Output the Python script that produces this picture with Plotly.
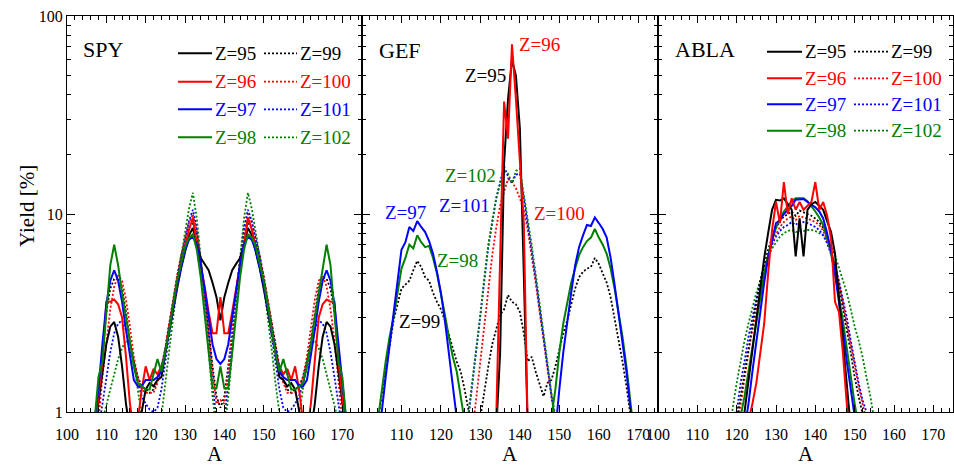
import math
import plotly.graph_objects as go

# ---------------------------------------------------------------------------
# Fission-fragment charge yields (in %) versus mass number A, for three models.
# Values below 1 % fall outside the plotted range and are clipped.
# ---------------------------------------------------------------------------

# SPY model, A = 107 ... 171
SPY_A = list(range(107, 172))
SPY_Z95 = [0.8, 1.1, 1.6, 2.2, 2.7, 2.85, 2.4, 1.7, 1.1, 0.8, 0.7, 0.8, 1.0, 1.3, 1.4, 1.35, 1.45,
           1.5, 2.0, 2.6, 3.3, 4.2, 5.3, 6.5, 7.8, 8.5, 7.0, 6.0, 5.6, 5.2, 4.5, 3.8, 2.9,
           3.8, 4.5, 5.2, 5.6, 6.0, 7.0, 8.5, 7.8, 6.5, 5.3, 4.2, 3.3, 2.6, 2.0, 1.5, 1.45,
           1.35, 1.4, 1.3, 1.0, 0.8, 0.7, 0.8, 1.1, 1.7, 2.4, 2.85, 2.7, 2.2, 1.6, 1.1, 0.8]
SPY_Z96 = [0.8, 1.2, 1.8, 3.6, 3.6, 3.7, 3.5, 3.0, 1.9, 1.1, 0.8, 0.9, 1.3, 1.7, 1.45, 1.65, 1.55,
           1.7, 2.0, 2.7, 3.5, 4.5, 5.6, 6.8, 8.3, 9.6, 7.0, 5.5, 4.3, 3.2, 2.5, 2.5, 3.8,
           2.5, 2.5, 3.2, 4.3, 5.5, 7.0, 9.6, 8.3, 6.8, 5.6, 4.5, 3.5, 2.7, 2.0, 1.7, 1.55,
           1.65, 1.45, 1.7, 1.3, 0.9, 0.8, 1.1, 1.9, 3.0, 3.5, 3.7, 3.6, 3.6, 1.8, 1.2, 0.8]
SPY_Z97 = [0.9, 1.3, 2.2, 3.5, 4.6, 5.2, 4.6, 3.6, 2.6, 1.9, 1.45, 1.35, 1.35, 1.45, 1.45, 1.45, 1.5,
           1.6, 2.0, 2.6, 3.4, 4.4, 5.4, 6.5, 7.4, 7.7, 7.0, 5.6, 4.2, 3.0, 2.2, 1.85, 1.75,
           1.85, 2.2, 3.0, 4.2, 5.6, 7.0, 7.7, 7.4, 6.5, 5.4, 4.4, 3.4, 2.6, 2.0, 1.6, 1.5,
           1.45, 1.45, 1.45, 1.35, 1.35, 1.45, 1.9, 2.6, 3.6, 4.6, 5.2, 4.6, 3.5, 2.2, 1.3, 0.9]
SPY_Z98 = [0.9, 1.5, 1.8, 3.3, 5.5, 7.0, 5.5, 4.0, 3.0, 2.2, 1.7, 1.4, 1.35, 1.3, 1.3, 1.55, 1.85,
           1.6, 2.0, 2.6, 3.5, 4.6, 5.6, 6.8, 7.6, 7.9, 6.6, 4.8, 3.1, 2.0, 1.32, 1.32, 1.7,
           1.32, 1.32, 2.0, 3.1, 4.8, 6.6, 7.9, 7.6, 6.8, 5.6, 4.6, 3.5, 2.6, 2.0, 1.6, 1.85,
           1.55, 1.3, 1.3, 1.35, 1.4, 1.7, 2.2, 3.0, 4.0, 5.5, 7.0, 5.5, 3.3, 1.8, 1.5, 0.9]
SPY_Z99 = [0.8, 1.1, 2.0, 3.2, 4.2, 4.7, 4.8, 4.2, 3.2, 2.3, 1.8, 1.5, 1.35, 1.3, 1.25, 1.3, 1.45,
           1.7, 2.1, 2.8, 3.7, 4.8, 6.0, 7.2, 8.5, 9.0, 7.8, 5.8, 4.0, 2.6, 1.7, 1.2, 1.05,
           1.2, 1.7, 2.6, 4.0, 5.8, 7.8, 9.0, 8.5, 7.2, 6.0, 4.8, 3.7, 2.8, 2.1, 1.7, 1.45,
           1.3, 1.25, 1.3, 1.35, 1.5, 1.8, 2.3, 3.2, 4.2, 4.8, 4.7, 4.2, 3.2, 2.0, 1.1, 0.8]
SPY_Z100 = [0.7, 0.9, 1.5, 2.3, 3.3, 4.3, 4.9, 4.6, 3.7, 2.7, 1.9, 1.5, 1.3, 1.25, 1.25, 1.25, 1.4,
            1.65, 2.1, 2.8, 3.7, 4.9, 6.2, 7.5, 9.0, 10.0, 8.2, 5.9, 4.0, 2.6, 1.6, 1.1, 1.15,
            1.1, 1.6, 2.6, 4.0, 5.9, 8.2, 10.0, 9.0, 7.5, 6.2, 4.9, 3.7, 2.8, 2.1, 1.65, 1.4,
            1.25, 1.25, 1.25, 1.3, 1.5, 1.9, 2.7, 3.7, 4.6, 4.9, 4.3, 3.3, 2.3, 1.5, 0.9, 0.7]
SPY_Z101 = [0.6, 0.8, 1.1, 1.5, 2.0, 2.5, 2.8, 2.9, 2.6, 2.1, 1.7, 1.4, 1.2, 1.1, 1.03, 1.0, 1.05,
            1.3, 1.8, 2.5, 3.4, 4.6, 6.0, 7.5, 9.2, 10.5, 8.5, 5.8, 3.8, 2.3, 1.4, 0.9, 0.8,
            0.9, 1.4, 2.3, 3.8, 5.8, 8.5, 10.5, 9.2, 7.5, 6.0, 4.6, 3.4, 2.5, 1.8, 1.3, 1.05,
            1.0, 1.03, 1.1, 1.2, 1.4, 1.7, 2.1, 2.6, 2.9, 2.8, 2.5, 2.0, 1.5, 1.1, 0.8, 0.6]
SPY_Z102 = [0.5, 0.7, 0.9, 1.1, 1.3, 1.55, 1.85, 2.1, 2.3, 2.2, 1.8, 1.3, 0.95, 0.7, 0.6, 0.6, 0.7,
            0.95, 1.4, 2.1, 3.1, 4.4, 6.1, 8.2, 10.6, 12.8, 9.5, 6.0, 3.5, 2.0, 1.2, 0.8, 0.6,
            0.8, 1.2, 2.0, 3.5, 6.0, 9.5, 12.8, 10.6, 8.2, 6.1, 4.4, 3.1, 2.1, 1.4, 0.95, 0.7,
            0.6, 0.6, 0.7, 0.95, 1.3, 1.8, 2.2, 2.3, 2.1, 1.85, 1.55, 1.3, 1.1, 0.9, 0.7, 0.5]

# GEF model: light and heavy humps, the central narrow peak and the broad central peak
GEF_A_LIGHT = list(range(104, 128))
GEF_A_HEAVY = list(range(147, 171))
GEF_A_NARROW = list(range(133, 144))
GEF_A_CENTRE = list(range(127, 151))
GEF_A_FULL = list(range(104, 171))
GEF_Z95 = [0.5, 0.8, 2.0, 18, 38, 60, 50, 27, 5.0, 0.8, 0.5]
GEF_Z96 = [0.5, 0.9, 6.0, 37, 24, 72, 38, 18, 9.0, 0.8, 0.5]
GEF_Z97_LIGHT = [0.8, 1.0, 1.5, 2.2, 3.0, 4.5, 6.6, 7.2, 8.6, 8.2, 9.2, 8.6, 8.1, 7.3, 6.3, 5.1,
                 4.0, 2.9, 2.0, 1.4, 0.95, 0.6, 0.4, 0.3]
GEF_Z97_HEAVY = [0.3, 0.5, 0.8, 1.3, 2.0, 2.9, 4.0, 5.5, 6.8, 7.8, 8.8, 8.7, 9.6, 9.0, 8.4, 7.6,
                 6.0, 4.4, 3.2, 2.3, 1.6, 1.05, 0.7, 0.5]
GEF_Z98_LIGHT = [0.9, 1.3, 1.8, 2.4, 3.0, 4.0, 5.3, 6.0, 7.0, 6.7, 7.8, 7.2, 6.8, 6.9, 6.0, 5.0,
                 4.0, 3.1, 2.4, 1.9, 1.6, 1.2, 0.9, 0.6]
GEF_Z98_HEAVY = [0.6, 0.95, 1.3, 2.0, 2.8, 3.5, 4.5, 5.3, 6.2, 6.8, 7.3, 7.6, 8.4, 7.6, 7.0, 6.3,
                 5.3, 4.2, 3.2, 2.4, 1.7, 1.05, 0.7, 0.5]
GEF_Z99 = [0.9, 1.2, 1.6, 2.2, 2.9, 3.5, 4.2, 4.4, 4.6, 5.2, 5.8, 5.4, 4.8, 4.6, 4.0, 3.6, 3.3,
           2.9, 2.5, 2.1, 1.8, 1.6, 1.3, 1.05, 0.8, 0.7, 0.95, 1.3, 1.7, 2.2, 2.6, 3.1, 3.3,
           3.9, 3.6, 3.5, 3.2, 2.5, 1.8, 1.9, 1.6, 1.4, 1.2, 1.4, 1.45, 1.7, 2.1, 2.5, 2.9,
           3.5, 4.2, 4.8, 5.1, 5.3, 5.4, 6.0, 5.6, 5.0, 4.5, 3.8, 3.0, 2.3, 1.8, 1.35, 1.0,
           0.7, 0.5]
GEF_Z100 = [0.6, 0.8, 1.2, 1.8, 2.8, 4.2, 6.2, 8.5, 11.0, 13.0, 15.0, 14.5, 13.5, 12.0, 10.5,
            8.3, 6.2, 4.5, 3.2, 2.3, 1.6, 1.2, 0.9, 0.6]
GEF_Z101 = [0.95, 1.4, 2.0, 3.0, 4.6, 6.8, 9.0, 12.0, 14.5, 17.3, 15.5, 14.3, 15.8, 16.0, 12.0,
            9.0, 6.5, 4.7, 3.3, 2.3, 1.6, 1.2, 0.9, 0.6]
GEF_Z102 = [1.0, 1.45, 2.1, 3.1, 4.8, 7.0, 9.2, 12.0, 14.2, 16.5, 16.0, 14.3, 16.5, 17.0, 12.5,
            9.5, 7.0, 5.0, 3.5, 2.5, 1.7, 1.25, 0.95, 0.65]

# ABLA model, A = 118 ... 156
ABLA_A = list(range(118, 157))
ABLA_Z95 = [0.5, 0.5, 0.5, 0.7, 1.0, 1.4, 2.0, 2.9, 4.2, 6.0, 8.0, 10.5, 11.8, 11.7, 12.0, 11.2,
            10.5, 6.1, 9.5, 6.1, 10.5, 11.2, 11.5, 11.0, 10.5, 9.2, 8.1, 6.3, 3.8, 2.5, 1.4, 0.8,
            0.5, 0.5, 0.5, 0.5, 0.5, 0.5, 0.5]
ABLA_Z96 = [0.5, 0.5, 0.5, 0.5, 0.5, 0.9, 1.1, 1.4, 2.0, 2.8, 5.0, 8.3, 11.5, 9.0, 14.5, 10.0,
            12.0, 10.5, 11.5, 10.5, 11.0, 11.5, 14.5, 10.5, 11.5, 9.8, 7.5, 3.6, 3.2, 2.0, 1.1,
            0.6, 0.5, 0.5, 0.5, 0.5, 0.5, 0.5, 0.5]
ABLA_Z97 = [0.5, 0.5, 0.5, 0.6, 0.8, 1.1, 1.6, 2.3, 3.3, 4.5, 6.0, 7.5, 9.0, 9.3, 10.0, 10.5,
            11.0, 11.8, 11.9, 11.9, 11.5, 11.2, 10.8, 10.3, 9.5, 8.0, 6.5, 5.0, 3.7, 2.6, 1.8,
            1.3, 0.95, 0.6, 0.5, 0.5, 0.5, 0.5, 0.5]
ABLA_Z98 = [0.5, 0.5, 0.7, 0.95, 1.2, 1.6, 2.1, 2.9, 3.9, 5.0, 6.2, 7.4, 8.5, 9.5, 10.3, 11.0,
            11.6, 12.0, 12.0, 12.0, 11.6, 11.0, 10.3, 9.6, 8.8, 7.6, 6.3, 5.0, 3.9, 2.9, 2.1,
            1.5, 1.1, 0.85, 0.5, 0.5, 0.5, 0.5, 0.5]
ABLA_Z99 = [0.5, 0.7, 0.9, 1.2, 1.6, 2.1, 2.8, 3.6, 4.6, 5.6, 6.6, 7.6, 8.5, 9.2, 9.7, 10.0,
            10.3, 9.8, 10.4, 10.2, 10.0, 9.8, 9.5, 9.1, 8.5, 7.6, 6.5, 5.4, 4.3, 3.4, 2.6,
            2.0, 1.5, 1.2, 1.0, 0.8, 0.6, 0.5, 0.5]
ABLA_Z100 = [0.5, 0.6, 0.8, 1.1, 1.5, 2.0, 2.6, 3.3, 4.2, 5.1, 6.1, 7.1, 7.9, 8.6, 9.1, 9.5,
             9.7, 9.3, 9.8, 9.6, 9.5, 9.3, 9.1, 8.8, 8.2, 7.4, 6.5, 5.5, 4.5, 3.6, 2.8, 2.2,
             1.7, 1.35, 1.1, 0.9, 0.6, 0.5, 0.5]
ABLA_Z101 = [0.6, 0.8, 1.0, 1.4, 1.8, 2.4, 3.0, 3.7, 4.5, 5.3, 6.2, 7.0, 7.7, 8.2, 8.6, 8.8,
             9.1, 8.8, 9.2, 9.1, 9.0, 8.8, 8.6, 8.3, 7.8, 7.1, 6.3, 5.5, 4.6, 3.7, 3.0, 2.3,
             1.8, 1.4, 1.15, 1.0, 0.75, 0.5, 0.5]
ABLA_Z102 = [0.7, 1.05, 1.4, 1.8, 2.3, 2.8, 3.4, 4.0, 4.6, 5.3, 6.1, 6.7, 7.2, 7.7, 8.0, 8.2,
             8.3, 8.1, 8.2, 8.2, 8.3, 8.3, 8.2, 8.0, 7.8, 7.3, 6.8, 6.2, 5.4, 4.6, 4.0, 3.3,
             2.7, 2.3, 1.9, 1.5, 1.2, 0.9, 0.6]

# Axis ticks
X_TICKS = [100, 110, 120, 130, 140, 150, 160, 170]
X_TICKS_MIDDLE = [110, 120, 130, 140, 150, 160, 170]
Y_TICKS = [1, 10, 100]
Y_MINOR = [2, 3, 4, 5, 6, 7, 8, 9, 20, 30, 40, 50, 60, 70, 80, 90]

# GEF in-panel labels: (text, Z, A position, yield position)
GEF_LABELS = [("Z=96", 96, 144.9, 71.4), ("Z=95", 95, 131.2, 49.8),
              ("Z=102", 102, 127.4, 15.7), ("Z=101", 101, 125.9, 11.1),
              ("Z=97", 97, 110.9, 10.2), ("Z=98", 98, 124.1, 5.8),
              ("Z=99", 99, 114.5, 2.85), ("Z=100", 100, 150.0, 10.1)]

# ---------------------------------------------------------------------------
FONT = "Liberation Serif, Times New Roman, DejaVu Serif, serif"
COLOR = {95: "black", 96: "red", 97: "blue", 98: "green",
         99: "black", 100: "red", 101: "blue", 102: "green"}
DOT = "2px,2px"

W, H = 954, 467
ML, MR, MT, MB = 67, 1, 16, 55
PW, PH = W - ML - MR, H - MT - MB


def paper(xp, yp):
    """Page pixel position -> paper coordinates."""
    return (xp - ML) / PW, (H - MB - yp) / PH


def style(z):
    solid = z <= 98
    return dict(color=COLOR[z], width=2 if solid else 1.8, dash="solid" if solid else DOT)


fig = go.Figure()


def add(a, y, z, xa, ya):
    fig.add_trace(go.Scatter(x=a, y=y, mode="lines", line=style(z), xaxis=xa, yaxis=ya,
                             showlegend=False, hoverinfo="skip"))


# SPY
for z, vals in [(99, SPY_Z99), (100, SPY_Z100), (101, SPY_Z101), (102, SPY_Z102),
                (95, SPY_Z95), (96, SPY_Z96), (97, SPY_Z97), (98, SPY_Z98)]:
    add(SPY_A, vals, z, "x", "y")

# GEF
add(GEF_A_FULL, GEF_Z99, 99, "x2", "y2")
add(GEF_A_CENTRE, GEF_Z100, 100, "x2", "y2")
add(GEF_A_CENTRE, GEF_Z101, 101, "x2", "y2")
add(GEF_A_CENTRE, GEF_Z102, 102, "x2", "y2")
add(GEF_A_LIGHT, GEF_Z98_LIGHT, 98, "x2", "y2")
add(GEF_A_HEAVY, GEF_Z98_HEAVY, 98, "x2", "y2")
add(GEF_A_LIGHT, GEF_Z97_LIGHT, 97, "x2", "y2")
add(GEF_A_HEAVY, GEF_Z97_HEAVY, 97, "x2", "y2")
add(GEF_A_NARROW, GEF_Z95, 95, "x2", "y2")
add(GEF_A_NARROW, GEF_Z96, 96, "x2", "y2")

# ABLA
for z, vals in [(102, ABLA_Z102), (101, ABLA_Z101), (100, ABLA_Z100), (99, ABLA_Z99),
                (98, ABLA_Z98), (97, ABLA_Z97), (95, ABLA_Z95), (96, ABLA_Z96)]:
    add(ABLA_A, vals, z, "x3", "y3")

tickfont = dict(family=FONT, size=16, color="black")
third = 295 / PW
domains = [[0, third], [third, 2 * third + 1 / PW], [2 * third + 1 / PW, 1]]


def xaxis(dom, ticks, anchor):
    return dict(domain=dom, range=[100, 175], anchor=anchor, tickvals=ticks,
                ticktext=[str(t) for t in ticks], ticks="inside", ticklen=7, tickwidth=1,
                tickcolor="black", showline=True, linecolor="black", linewidth=1.2,
                mirror="allticks", showgrid=False, zeroline=False, tickfont=tickfont,
                ticklabelstandoff=8,
                minor=dict(tick0=100, dtick=2, ticks="inside", ticklen=4, tickwidth=1,
                           tickcolor="black", showgrid=False))


def yaxis(anchor, labels):
    return dict(type="log", range=[0, 2], anchor=anchor, tickvals=Y_TICKS,
                ticktext=[str(t) for t in Y_TICKS], showticklabels=labels,
                ticks="inside", ticklen=8, tickwidth=1, tickcolor="black", showline=True,
                linecolor="black", linewidth=1.2, mirror="allticks", showgrid=False,
                zeroline=False, tickfont=tickfont,
                minor=dict(tickvals=Y_MINOR, ticks="inside", ticklen=4, tickwidth=1,
                           tickcolor="black", showgrid=False))


annotations = []
shapes = []

# Panel names
for name, xp, yp in [("SPY", 103, 49), ("GEF", 400, 50), ("ABLA", 705, 49)]:
    px_, py_ = paper(xp, yp)
    annotations.append(dict(text=name, x=px_, y=py_, xref="paper", yref="paper",
                            showarrow=False, xanchor="center", yanchor="middle",
                            font=dict(family=FONT, size=22, color="black")))

# Line-style keys inside the SPY and ABLA panels
legend_blocks = [
    dict(solid=(178, 212), dotted=(264, 297), rows=[53.3, 81.7, 109.3, 137.3]),
    dict(solid=(767, 802), dotted=(854, 888), rows=[51.7, 78.3, 104.3, 130.7]),
]
for blk in legend_blocks:
    for i, yp in enumerate(blk["rows"]):
        for zz, (x0, x1) in [(95 + i, blk["solid"]), (99 + i, blk["dotted"])]:
            p0 = paper(x0, yp)
            p1 = paper(x1, yp)
            shapes.append(dict(type="line", xref="paper", yref="paper", x0=p0[0], x1=p1[0],
                               y0=p0[1], y1=p1[1], line=style(zz)))
            annotations.append(dict(text=f"Z={zz}", x=p1[0] + 1 / PW, y=p0[1], xref="paper",
                                    yref="paper", showarrow=False, xanchor="left",
                                    yanchor="middle",
                                    font=dict(family=FONT, size=19, color=COLOR[zz])))

# Curve labels in the GEF panel
for text, zz, a, yv in GEF_LABELS:
    annotations.append(dict(text=text, x=a, y=math.log10(yv), xref="x2", yref="y2",
                            showarrow=False, xanchor="center", yanchor="middle",
                            font=dict(family=FONT, size=19, color=COLOR[zz])))

# Axis titles
for xp in [214.5, 510, 805.5]:
    px_, py_ = paper(xp, 454)
    annotations.append(dict(text="A", x=px_, y=py_, xref="paper", yref="paper",
                            showarrow=False, xanchor="center", yanchor="middle",
                            font=dict(family=FONT, size=21, color="black")))
px_, py_ = paper(27, 206)
annotations.append(dict(text="Yield [%]", x=px_, y=py_, xref="paper", yref="paper",
                        showarrow=False, textangle=-90, xanchor="center", yanchor="middle",
                        font=dict(family=FONT, size=21, color="black")))

fig.update_layout(
    width=W, height=H,
    margin=dict(l=ML, r=MR, t=MT, b=MB, pad=0),
    paper_bgcolor="white", plot_bgcolor="white",
    showlegend=False,
    xaxis=xaxis(domains[0], X_TICKS, "y"),
    xaxis2=xaxis(domains[1], X_TICKS_MIDDLE, "y2"),
    xaxis3=xaxis(domains[2], X_TICKS, "y3"),
    yaxis=yaxis("x", True),
    yaxis2=dict(yaxis("x2", False), matches="y"),
    yaxis3=dict(yaxis("x3", False), matches="y"),
    annotations=annotations,
    shapes=shapes,
)

fig.write_html("out.html")
